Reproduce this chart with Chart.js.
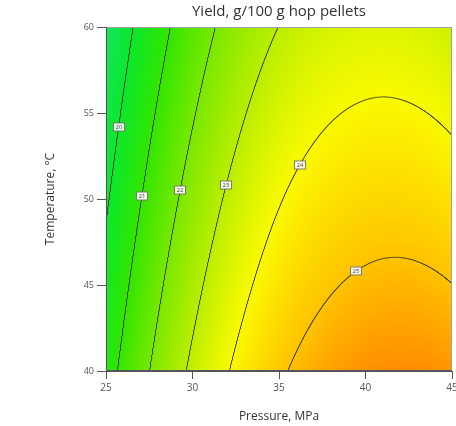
<!DOCTYPE html>
<html>
<head>
<meta charset="utf-8">
<script src="https://cdn.jsdelivr.net/npm/chart.js@4.4.1/dist/chart.umd.min.js"></script>
<style>
  html, body { margin: 0; padding: 0; background: #fff; }
</style>
</head>
<body>
<canvas id="yieldChart" width="456" height="426"></canvas>
<script>
// yield (g/100 g hop pellets) on the pressure x temperature design grid
const pressure = [25, 30, 35, 40, 45];        // MPa
const temperature = [40, 45, 50, 55, 60];     // °C
const yieldGrid = [                           // one row per temperature
  [20.62, 23.16, 24.88, 25.65, 25.59],
  [20.26, 22.75, 24.41, 25.12, 25.01],
  [19.90, 22.34, 23.95, 24.60, 24.43],
  [19.54, 21.93, 23.48, 24.08, 23.85],
  [19.17, 21.52, 23.01, 23.55, 23.26]
];
const contourLevels = [20, 21, 22, 23, 24, 25];
const pressureTicks = [25, 30, 35, 40, 45];
const temperatureTicks = [40, 45, 50, 55, 60];

// Catmull-Rom along one row, ends extended quadratically
function cr(v, u) {
  const n = v.length - 1;
  const i = Math.min(Math.max(Math.floor(u), 0), n - 1);
  const s = u - i;
  const p0 = i > 0 ? v[i - 1] : 3 * v[0] - 3 * v[1] + v[2];
  const p1 = v[i], p2 = v[i + 1];
  const p3 = i + 2 <= n ? v[i + 2] : 3 * v[n] - 3 * v[n - 1] + v[n - 2];
  return 0.5 * (2 * p1 + (p2 - p0) * s + (2 * p0 - 5 * p1 + 4 * p2 - p3) * s * s +
    (3 * p1 - p0 - 3 * p2 + p3) * s * s * s);
}
function gridPos(arr, val) {
  return (val - arr[0]) / (arr[1] - arr[0]);
}
function yieldAt(P, T) {
  const u = gridPos(pressure, P);
  const col = yieldGrid.map(row => cr(row, u));
  return cr(col, gridPos(temperature, T));
}

// yield falls with temperature, so each level gives one T per pressure
function contourLine(level) {
  const pts = [];
  const tMin = temperature[0], tMax = temperature[temperature.length - 1];
  for (let P = pressure[0]; P <= pressure[pressure.length - 1] + 1e-9; P += 0.005) {
    let lo = tMin, hi = tMax;
    if (yieldAt(P, lo) < level || yieldAt(P, hi) > level) continue;
    for (let k = 0; k < 28; k++) {
      const mid = (lo + hi) / 2;
      if (yieldAt(P, mid) > level) lo = mid; else hi = mid;
    }
    pts.push({ x: P, y: (lo + hi) / 2 });
  }
  return pts;
}

const rampStops = [
  [19.0, 25, 228, 105],
  [20.0, 10, 232, 45],
  [21.0, 50, 230, 0],
  [22.0, 120, 232, 0],
  [23.0, 185, 238, 0],
  [24.0, 250, 250, 0],
  [25.0, 255, 195, 0],
  [25.8, 255, 135, 0]
];
function colourFor(val) {
  if (val <= rampStops[0][0]) return rampStops[0].slice(1);
  for (let i = 1; i < rampStops.length; i++) {
    const a = rampStops[i - 1], b = rampStops[i];
    if (val <= b[0]) {
      const f = (val - a[0]) / (b[0] - a[0]);
      return [a[1] + (b[1] - a[1]) * f, a[2] + (b[2] - a[2]) * f, a[3] + (b[3] - a[3]) * f];
    }
  }
  return rampStops[rampStops.length - 1].slice(1);
}

// centre the title over the plot area rather than the whole canvas
const titleOverPlot = {
  id: 'titleOverPlot',
  afterLayout(chart) {
    if (chart.titleBlock) {
      chart.titleBlock.left = chart.chartArea.left;
      chart.titleBlock.right = chart.chartArea.right;
    }
  }
};

// filled colour field under the contour lines
const surfacePlugin = {
  id: 'surface',
  beforeDatasetsDraw(chart) {
    const { ctx, chartArea: a, scales: { x, y } } = chart;
    const left = Math.round(a.left), top = Math.round(a.top);
    const w = Math.round(a.right) - left, h = Math.round(a.bottom) - top;
    const img = ctx.createImageData(w, h);
    for (let i = 0; i < w; i++) {
      const u = gridPos(pressure, x.getValueForPixel(left + i + 0.5));
      const col = yieldGrid.map(row => cr(row, u));
      for (let j = 0; j < h; j++) {
        const v = gridPos(temperature, y.getValueForPixel(top + j + 0.5));
        const c = colourFor(cr(col, v));
        const k = (j * w + i) * 4;
        img.data[k] = c[0];
        img.data[k + 1] = c[1];
        img.data[k + 2] = c[2];
        img.data[k + 3] = 255;
      }
    }
    ctx.putImageData(img, left, top);
  }
};

// frame and the little value boxes on each contour
const labelTemps = [54.2, 50.2, 50.5, 50.8, 52.0, 45.8];
const labelPlugin = {
  id: 'contourLabels',
  afterDatasetsDraw(chart) {
    const { ctx, chartArea: a, scales: { x, y } } = chart;
    ctx.save();
    ctx.lineWidth = 1;
    ctx.strokeStyle = '#a0a0a0';
    ctx.beginPath();
    ctx.moveTo(Math.round(a.left), Math.round(a.top) + 0.5);
    ctx.lineTo(Math.round(a.right) - 0.5, Math.round(a.top) + 0.5);
    ctx.lineTo(Math.round(a.right) - 0.5, Math.round(a.bottom));
    ctx.stroke();
    ctx.strokeStyle = '#555';
    ctx.beginPath();
    ctx.moveTo(Math.round(a.left) + 0.5, Math.round(a.top));
    ctx.lineTo(Math.round(a.left) + 0.5, Math.round(a.bottom) - 0.5);
    ctx.lineTo(Math.round(a.right), Math.round(a.bottom) - 0.5);
    ctx.stroke();

    ctx.font = '6px "Open Sans"';
    ctx.textAlign = 'center';
    ctx.textBaseline = 'middle';
    chart.data.datasets.forEach((ds, i) => {
      const pts = ds.data, t = labelTemps[i];
      for (let k = 1; k < pts.length; k++) {
        const p = pts[k - 1], q = pts[k];
        if ((p.y - t) * (q.y - t) <= 0) {
          const px = Math.round(x.getPixelForValue(p.x));
          const py = Math.round(y.getPixelForValue(t));
          ctx.fillStyle = 'rgba(255,255,255,0.9)';
          ctx.fillRect(px - 5.5, py - 4, 11, 8);
          ctx.strokeStyle = '#7a7a6a';
          ctx.strokeRect(px - 5.5, py - 4, 11, 8);
          ctx.fillStyle = '#444';
          ctx.fillText(ds.label, px, py + 0.5);
          break;
        }
      }
    });
    ctx.restore();
  }
};

const tickFont = { family: 'Open Sans', size: 10 };
const titleFont = { family: 'Open Sans', size: 12 };

new Chart(document.getElementById('yieldChart'), {
  type: 'scatter',
  data: {
    datasets: contourLevels.map(level => ({
      label: String(level),
      data: contourLine(level),
      showLine: true,
      borderColor: 'rgba(55,55,35,0.9)',
      borderWidth: 1,
      pointRadius: 0,
      tension: 0
    }))
  },
  options: {
    responsive: false,
    animation: false,
    events: [],
    layout: { padding: { right: 4 } },
    plugins: {
      legend: { display: false },
      tooltip: { enabled: false },
      title: {
        display: true,
        text: 'Yield, g/100 g hop pellets',
        color: '#333',
        font: { family: 'Open Sans', size: 15, weight: 'normal' },
        padding: { top: 3, bottom: 6 }
      }
    },
    scales: {
      x: {
        type: 'linear',
        min: pressureTicks[0],
        max: pressureTicks[pressureTicks.length - 1],
        afterBuildTicks: s => { s.ticks = pressureTicks.map(v => ({ value: v })); },
        ticks: { color: '#555', font: tickFont, padding: 3, maxRotation: 0 },
        grid: { drawOnChartArea: false, tickLength: 8, color: '#555' },
        border: { color: '#555' },
        title: { display: true, text: 'Pressure, MPa', color: '#333', font: titleFont, padding: { top: 0, bottom: 2 } },
        afterFit: s => { s.height = 55; s.paddingLeft = 0; s.paddingRight = 0; }
      },
      y: {
        type: 'linear',
        min: temperatureTicks[0],
        max: temperatureTicks[temperatureTicks.length - 1],
        afterBuildTicks: s => { s.ticks = temperatureTicks.map(v => ({ value: v })); },
        ticks: { color: '#555', font: { family: 'Open Sans', size: 9 }, padding: 3 },
        grid: { drawOnChartArea: false, tickLength: 9, color: '#555' },
        border: { color: '#555' },
        title: { display: true, text: 'Temperature, °C', color: '#333', font: titleFont, padding: { top: 43, bottom: 0 } },
        afterFit: s => { s.width = 106; }
      }
    }
  },
  plugins: [titleOverPlot, surfacePlugin, labelPlugin]
});
</script>
</body>
</html>
